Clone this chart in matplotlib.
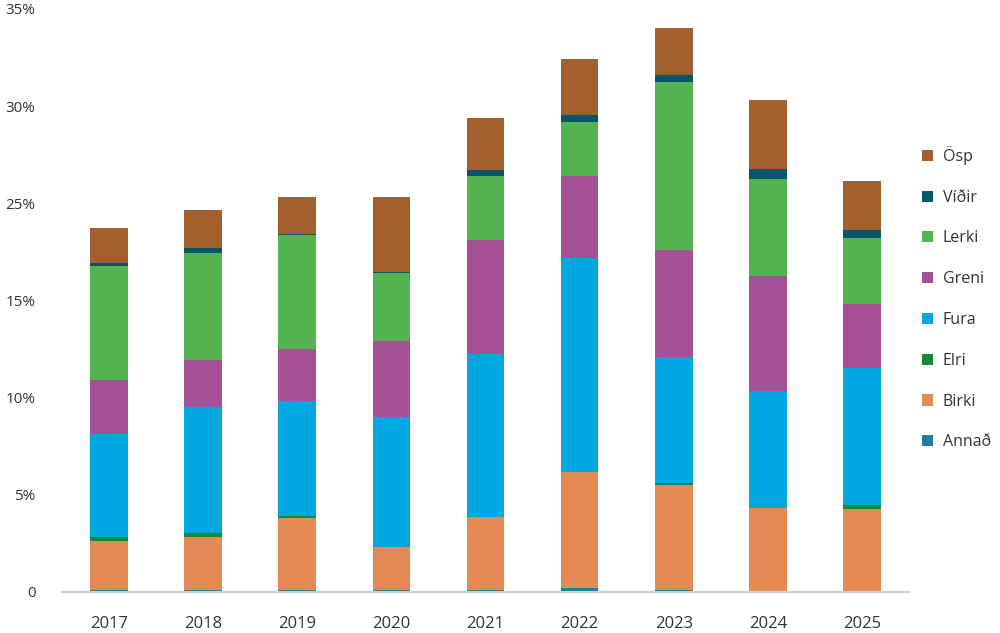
import matplotlib
matplotlib.use("Agg")
import matplotlib.pyplot as plt
import numpy as np

plt.rcParams['font.family'] = ['Open Sans', 'DejaVu Sans']

years = ['2017', '2018', '2019', '2020', '2021', '2022', '2023', '2024', '2025']

# values, in axis units (bottom to top of each bar)
annad = [0.10, 0.10, 0.10, 0.10, 0.10, 0.20, 0.10, 0.00, 0.00]
birki = [2.54, 2.72, 3.71, 2.23, 3.74, 5.98, 5.42, 4.31, 4.26]
elri  = [0.18, 0.23, 0.08, 0.00, 0.00, 0.00, 0.11, 0.00, 0.22]
fura  = [5.31, 6.46, 5.92, 6.68, 8.42, 11.01, 6.45, 6.02, 7.06]
greni = [2.78, 2.43, 2.71, 3.91, 5.86, 4.24, 5.51, 5.93, 3.27]
lerki = [5.87, 5.49, 5.84, 3.48, 3.31, 2.74, 8.66, 4.98, 3.42]
vidir = [0.17, 0.26, 0.08, 0.08, 0.29, 0.40, 0.36, 0.53, 0.39]
osp   = [1.80, 1.95, 1.87, 3.83, 2.66, 2.88, 2.43, 3.54, 2.52]

names = ['Annað', 'Birki', 'Elri', 'Fura', 'Greni', 'Lerki', 'Víðir', 'Ösp']
series = [annad, birki, elri, fura, greni, lerki, vidir, osp]
colors = ['#1f7ea1', '#e58a57', '#15873f', '#00a7e1', '#a54f98', '#52b34f', '#06566b', '#a3602e']

# tick labels as printed on the original axis
ytick_pos = [0, 5, 10, 15, 20, 25, 30]
ytick_lab = ['0', '5%', '10%', '15%', '25%', '30%', '35%']

fig = plt.figure(figsize=(10, 6.33), dpi=100)
ax = fig.add_axes([0.062, 0.0648, 0.847, 0.921])

x = np.arange(len(years))
bottom = np.zeros(len(years))
handles = []
for name, vals, c in zip(names, series, colors):
    b = ax.bar(x, vals, width=0.4, bottom=bottom, color=c, label=name)
    handles.append(b)
    bottom += np.array(vals)

ax.set_xlim(-0.5, 8.5)
ax.set_ylim(0, 30)
ax.set_xticks(x)
ax.set_xticklabels(years, fontsize=12, color='#333333')
ax.set_yticks(ytick_pos)
ax.set_yticklabels(ytick_lab, fontsize=11, color='#333333')
ax.tick_params(axis='both', length=0)
ax.tick_params(axis='y', pad=19)
ax.tick_params(axis='x', pad=17)

for s in ['top', 'right', 'left']:
    ax.spines[s].set_visible(False)
ax.spines['bottom'].set_color('#d0d0d0')
ax.spines['bottom'].set_linewidth(1.5)

leg = fig.legend(handles[::-1], names[::-1], loc='center left',
                 bbox_to_anchor=(0.914, 0.529), frameon=False, fontsize=11.5,
                 handlelength=0.7, handleheight=0.7, handletextpad=0.6,
                 labelspacing=1.55, borderpad=0)
for t in leg.get_texts():
    t.set_color('#333333')

fig.savefig('out.png', dpi=100)
